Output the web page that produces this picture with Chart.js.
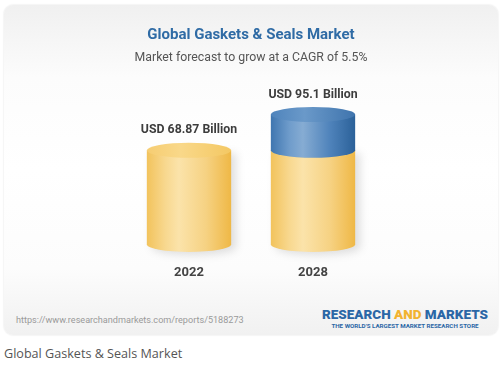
<!DOCTYPE html>
<html>
<head>
<meta charset="utf-8">
<script src="https://cdn.jsdelivr.net/npm/chart.js@4"></script>
<style>
  html, body { margin: 0; padding: 0; background: #fff; }
  body { width: 503px; height: 367px; position: relative; overflow: hidden; font-family: Roboto, sans-serif; }
  #card {
    position: absolute; left: 4px; top: 5px; width: 494px; height: 330px;
    border-radius: 9px;
    background: linear-gradient(to bottom, #f0f0f0 0%, #fcfcfc 22%, #ffffff 50%, #fcfcfc 80%, #f1f1f1 100%);
    box-shadow: 0 0 2px rgba(0,0,0,0.14);
  }
  #chartBox { position: absolute; left: 0; top: 0; width: 494px; height: 297px; }
  #url { position: absolute; left: 12px; top: 310px; font-size: 9.1px; color: #9a9a9a; }
  #logo { position: absolute; left: 318px; top: 301px; width: 166px; text-align: center; }
  #logo .big { font-size: 13.5px; font-weight: 900; color: #2b67a6; line-height: 16px; white-space: nowrap; }
  #logo .big span { color: #f2b330; }
  #logo .small { font-size: 6.2px; font-weight: 700; color: #2b67a6; white-space: nowrap; line-height: 8px; }
  #caption { position: absolute; left: 4px; top: 345px; font-size: 12.6px; color: #555; font-family: "Open Sans", sans-serif; }
</style>
</head>
<body>
<div id="card">
  <div id="chartBox"><canvas id="marketChart"></canvas></div>
  <div id="url">https://www.researchandmarkets.com/reports/5188273</div>
  <div id="logo">
    <div class="big">RESEARCH <span>AND</span> MARKETS</div>
    <div class="small">THE WORLD'S LARGEST MARKET RESEARCH STORE</div>
  </div>
</div>
<div id="caption">Global Gaskets &amp; Seals Market</div>

<script>
// chart data
const years = ['2022', '2028'];
const baseValues = [68.87, 68.87];     // yellow part
const growthValues = [null, 26.23];    // blue part on top (95.1 - 68.87)
const totalLabels = ['USD 68.87 Billion', 'USD 95.1 Billion'];

const palettes = [
  { body: ['#f2c35c', '#f8d88f', '#fbe3aa', '#f6d283', '#efb846'], top: ['#f6cd72', '#f9d889', '#f4c863'] },
  { body: ['#3f76b0', '#6f9ccb', '#86acd3', '#4f83bb', '#2b6199'], top: ['#4f84bc', '#6a99c9', '#3f74ad'] }
];

function drawCylinder(ctx, x, top, base, w, pal, shadow) {
  const rx = w / 2, ry = 7.5;
  ctx.save();
  const g = ctx.createLinearGradient(x - rx, 0, x + rx, 0);
  g.addColorStop(0, pal.body[0]);
  g.addColorStop(0.22, pal.body[1]);
  g.addColorStop(0.38, pal.body[2]);
  g.addColorStop(0.7, pal.body[3]);
  g.addColorStop(1, pal.body[4]);
  if (shadow) {
    ctx.shadowColor = 'rgba(0,0,0,0.12)';
    ctx.shadowBlur = 8;
    ctx.shadowOffsetX = 5;
    ctx.shadowOffsetY = 3;
  }
  ctx.beginPath();
  ctx.moveTo(x - rx, top);
  ctx.lineTo(x - rx, base);
  ctx.ellipse(x, base, rx, ry, 0, Math.PI, 0, true);
  ctx.lineTo(x + rx, top);
  ctx.closePath();
  ctx.fillStyle = g;
  ctx.fill();
  ctx.restore();

  ctx.save();
  const t = ctx.createLinearGradient(x - rx, 0, x + rx, 0);
  t.addColorStop(0, pal.top[0]);
  t.addColorStop(0.4, pal.top[1]);
  t.addColorStop(1, pal.top[2]);
  ctx.beginPath();
  ctx.ellipse(x, top, rx, ry, 0, 0, Math.PI * 2);
  ctx.fillStyle = t;
  ctx.fill();
  ctx.restore();
}

const cylinderPlugin = {
  id: 'cylinders',
  afterDatasetsDraw(chart) {
    const ctx = chart.ctx;
    chart.data.datasets.forEach((ds, di) => {
      const meta = chart.getDatasetMeta(di);
      meta.data.forEach((bar, i) => {
        if (ds.data[i] == null) return;
        const p = bar.getProps(['x', 'y', 'base', 'width'], true);
        drawCylinder(ctx, p.x, p.y, p.base, p.width, palettes[di], di === 0);
      });
    });
    // value labels above each column
    const first = chart.getDatasetMeta(0).data;
    ctx.save();
    ctx.font = 'bold 12.3px Roboto';
    ctx.fillStyle = '#3d3d3d';
    ctx.textAlign = 'center';
    ctx.textBaseline = 'middle';
    years.forEach((y, i) => {
      let top = first[i].getProps(['y'], true).y;
      if (growthValues[i] != null) {
        top = chart.getDatasetMeta(1).data[i].getProps(['y'], true).y;
      }
      ctx.fillText(totalLabels[i], first[i].x, top - 20);
    });
    ctx.restore();
  }
};

const ctx = document.getElementById('marketChart').getContext('2d');
new Chart(ctx, {
  type: 'bar',
  data: {
    labels: years,
    datasets: [
      { label: 'base', data: baseValues, backgroundColor: 'transparent', barPercentage: 0.68, categoryPercentage: 1 },
      { label: 'growth', data: growthValues, backgroundColor: 'transparent', barPercentage: 0.68, categoryPercentage: 1 }
    ]
  },
  options: {
    responsive: true,
    maintainAspectRatio: false,
    animation: false,
    layout: { padding: { left: 123, right: 123, top: 0, bottom: 8 } },
    plugins: {
      legend: { display: false },
      tooltip: { enabled: false },
      title: {
        display: true,
        text: 'Global Gaskets & Seals Market',
        color: '#2f6ba5',
        font: { family: 'Roboto', size: 15, weight: 'bold' },
        padding: { top: 21, bottom: 7 }
      },
      subtitle: {
        display: true,
        text: 'Market forecast to grow at a CAGR of 5.5%',
        color: '#555555',
        font: { family: 'Roboto', size: 12.3 },
        padding: { top: 0, bottom: 42 }
      }
    },
    scales: {
      x: {
        stacked: true,
        grid: { display: false },
        border: { display: false },
        ticks: { color: '#444', font: { family: 'Roboto', size: 13, weight: 'bold' }, padding: 13 }
      },
      y: {
        stacked: true,
        display: false,
        min: 0,
        max: 100
      }
    }
  },
  plugins: [cylinderPlugin]
});
</script>
</body>
</html>
